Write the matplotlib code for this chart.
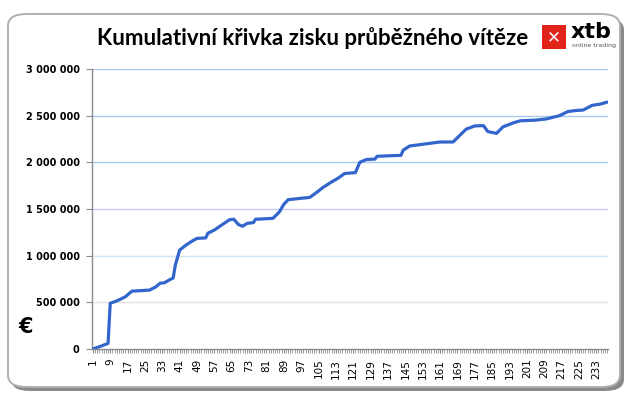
import matplotlib
matplotlib.use('Agg')
import matplotlib.pyplot as plt
from matplotlib.patches import FancyBboxPatch, Rectangle
from matplotlib.ticker import FuncFormatter, MultipleLocator, FixedLocator

# hodnoty v tisících EUR
zisk = [
    0, 8, 17, 25, 33, 42, 50, 60, 490, 498,
    506, 515, 526, 537, 549, 560, 580, 600, 620, 621,
    622, 623, 625, 627, 628, 630, 630, 642, 653, 665,
    685, 705, 707, 710, 723, 737, 750, 760, 900, 980,
    1060, 1078, 1097, 1115, 1130, 1145, 1160, 1172, 1185, 1186,
    1188, 1189, 1190, 1240, 1252, 1263, 1275, 1291, 1307, 1324,
    1340, 1355, 1370, 1385, 1388, 1390, 1362, 1335, 1325, 1315,
    1330, 1345, 1348, 1352, 1355, 1390, 1391, 1393, 1394, 1395,
    1396, 1398, 1399, 1400, 1423, 1447, 1470, 1510, 1550, 1575,
    1600, 1602, 1605, 1607, 1610, 1612, 1615, 1617, 1620, 1622,
    1625, 1642, 1658, 1675, 1693, 1712, 1730, 1745, 1760, 1775,
    1790, 1803, 1817, 1830, 1847, 1863, 1880, 1882, 1884, 1886,
    1888, 1890, 1945, 2000, 2010, 2020, 2030, 2031, 2032, 2034,
    2035, 2065, 2066, 2067, 2068, 2069, 2070, 2071, 2072, 2073,
    2074, 2074, 2075, 2130, 2145, 2160, 2175, 2178, 2181, 2184,
    2187, 2190, 2193, 2195, 2198, 2201, 2204, 2208, 2211, 2214,
    2218, 2218, 2218, 2218, 2218, 2218, 2218, 2241, 2264, 2287,
    2310, 2333, 2355, 2364, 2373, 2381, 2390, 2391, 2392, 2392,
    2393, 2362, 2330, 2325, 2320, 2315, 2310, 2333, 2357, 2380,
    2389, 2398, 2407, 2416, 2425, 2432, 2438, 2445, 2446, 2447,
    2447, 2448, 2449, 2450, 2452, 2455, 2457, 2460, 2462, 2465,
    2471, 2477, 2483, 2488, 2494, 2500, 2511, 2522, 2534, 2545,
    2548, 2552, 2555, 2556, 2557, 2559, 2560, 2572, 2585, 2598,
    2610, 2614, 2618, 2621, 2625, 2632, 2638, 2645,
]
zisk = [v * 1000 for v in zisk]
obchody = list(range(1, len(zisk) + 1))
popisky_x = list(range(1, 234, 8))
urovne_y = [0, 500000, 1000000, 1500000, 2000000, 2500000, 3000000]
barvy_mrizky = ['#ffffff', '#e3e3e3', '#d3e5f4', '#c9c9f0', '#a9c9ec', '#a9c9ec', '#a9c9ec']

titulek = 'Kumulativní křivka zisku průběžného vítěze'

fig = plt.figure(figsize=(6.3, 3.96), dpi=100)

# ramecek se stinem
stin = FancyBboxPatch((11 / 630, 5 / 396), 613 / 630, 373 / 396,
                      boxstyle='round,pad=0,rounding_size=0.03',
                      transform=fig.transFigure, facecolor='#8a8a8a',
                      edgecolor='none', zorder=0)
ramecek = FancyBboxPatch((8 / 630, 9 / 396), 612 / 630, 373 / 396,
                         boxstyle='round,pad=0,rounding_size=0.03',
                         transform=fig.transFigure, facecolor='white',
                         edgecolor='#b0b0b0', linewidth=1.4, zorder=1)
fig.patches.extend([stin, ramecek])

ax = fig.add_axes([92 / 630, 1 - 349 / 396, 516 / 630, 280 / 396])
ax.set_zorder(2)
ax.patch.set_alpha(0)

for y, c in zip(urovne_y, barvy_mrizky):
    if y > 0:
        ax.axhline(y, color=c, linewidth=1.0, zorder=1)

ax.plot(obchody, zisk, color='#3366cc', linewidth=2.3, zorder=3,
        solid_joinstyle='round', solid_capstyle='round')

ax.set_xlim(0.6, len(zisk) + 0.4)
ax.set_ylim(0, 3000000)
ax.yaxis.set_major_locator(FixedLocator(urovne_y))
ax.yaxis.set_major_formatter(FuncFormatter(lambda v, p: f'{int(v):,}'.replace(',', ' ')))
ax.xaxis.set_major_locator(FixedLocator(popisky_x))
ax.xaxis.set_minor_locator(MultipleLocator(1))
ax.set_xticklabels([str(v) for v in popisky_x], rotation=90, fontsize=7.5,
                   family='DejaVu Sans')

for s in ['top', 'right']:
    ax.spines[s].set_visible(False)
for s in ['left', 'bottom']:
    ax.spines[s].set_color('#8c8c8c')
    ax.spines[s].set_linewidth(1.0)

ax.tick_params(axis='y', length=4, color='#8c8c8c', labelsize=7, pad=5)
ax.tick_params(axis='x', which='both', length=3, color='#8c8c8c', pad=4)
for lab in ax.get_yticklabels():
    lab.set_fontweight('bold')
    lab.set_family('DejaVu Sans')

fig.text(313 / 630, 1 - 38 / 396, titulek, ha='center', va='center',
         fontsize=16, fontweight='bold', family='Lato', zorder=5)
fig.text(26 / 630, 1 - 327 / 396, '€', ha='center', va='center',
         fontsize=15, fontweight='bold', family='DejaVu Sans', zorder=5)

# logo xtb
fig.patches.append(Rectangle((542 / 630, 1 - 49 / 396), 24 / 630, 24 / 396,
                             transform=fig.transFigure, facecolor='#e2231a',
                             edgecolor='none', zorder=5))
fig.text(554 / 630, 1 - 37.5 / 396, '✕', ha='center', va='center', color='white',
         fontsize=12, fontweight='bold', family='DejaVu Sans', zorder=6)
fig.text(571 / 630, 1 - 32 / 396, 'xtb', ha='left', va='center',
         fontsize=16, fontweight='bold', family='DejaVu Sans', zorder=6)
fig.text(572 / 630, 1 - 46 / 396, 'online trading', ha='left', va='center',
         fontsize=4.5, color='#555555', family='DejaVu Sans', zorder=6)

plt.savefig('out.png', dpi=100)
